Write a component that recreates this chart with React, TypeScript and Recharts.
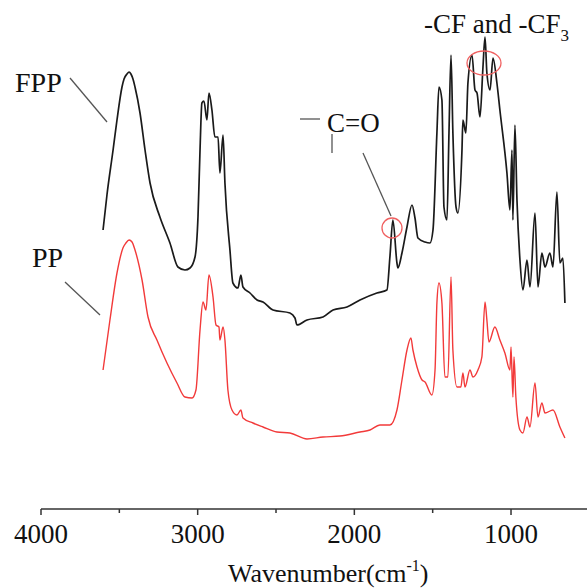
import { LineChart, Line, XAxis, YAxis } from 'recharts';

// FPP (fluorinated PP) spectrum: wavenumber (cm-1) and transmittance (a.u.)
const fppWavenumber = [
  3604, 3579, 3540, 3515, 3483, 3470, 3451, 3438, 3426, 3413, 3400, 3368, 3336, 3304, 3241, 3177,
  3126, 3081, 3049, 3017, 2998, 2985, 2973, 2960, 2941, 2928, 2909, 2890, 2870, 2858, 2838, 2826,
  2794, 2775, 2743, 2724, 2711, 2666, 2621, 2583, 2519, 2411, 2379, 2366, 2302, 2200, 2136, 2047,
  1964, 1856, 1792, 1773, 1754, 1728, 1722, 1696, 1664, 1632, 1613, 1594, 1549, 1517, 1498, 1473,
  1460, 1441, 1428, 1409, 1396, 1383, 1371, 1351, 1339, 1313, 1307, 1288, 1275, 1249, 1230, 1217,
  1198, 1179, 1166, 1154, 1134, 1115, 1090, 1071, 1026, 1007, 994, 988, 975, 962, 943, 924,
  898, 879, 847, 828, 803, 783, 752, 732, 707, 688, 669, 656,
];
const fppValue = [
  279, 314, 359, 389, 422, 430, 435, 437, 435, 430, 422, 396, 359, 326, 292, 266,
  242, 239, 241, 252, 292, 359, 406, 408, 389, 416, 399, 372, 372, 336, 374, 326,
  259, 226, 221, 234, 222, 216, 209, 207, 199, 196, 191, 184, 189, 192, 199, 202,
  209, 216, 219, 252, 289, 246, 241, 256, 282, 304, 291, 271, 267, 266, 279, 376,
  422, 409, 302, 289, 376, 454, 376, 302, 296, 359, 389, 376, 426, 454, 419, 416,
  392, 442, 472, 436, 419, 451, 426, 399, 336, 299, 359, 289, 384, 309, 249, 219,
  249, 222, 296, 222, 256, 242, 256, 242, 317, 246, 251, 206,
];

// PP spectrum
const ppWavenumber = [
  3604, 3560, 3515, 3477, 3458, 3438, 3419, 3400, 3355, 3317, 3260, 3196, 3132, 3081, 3036, 3011,
  2985, 2966, 2947, 2928, 2902, 2883, 2864, 2858, 2838, 2826, 2807, 2781, 2749, 2724, 2711, 2647,
  2583, 2494, 2411, 2302, 2200, 2092, 1964, 1900, 1837, 1773, 1728, 1696, 1664, 1639, 1626, 1600,
  1568, 1549, 1505, 1485, 1473, 1460, 1441, 1422, 1403, 1383, 1371, 1345, 1320, 1307, 1294, 1262,
  1243, 1211, 1186, 1166, 1154, 1141, 1103, 1071, 1039, 1007, 1000, 988, 981, 969, 943, 924,
  898, 879, 847, 828, 803, 783, 732, 688, 656,
];
const ppValue = [
  139, 189, 236, 261, 266, 269, 267, 259, 229, 192, 169, 146, 126, 112, 111, 119,
  179, 207, 199, 234, 212, 184, 182, 169, 182, 169, 119, 99, 94, 99, 91, 86,
  82, 77, 76, 70, 72, 73, 77, 79, 84, 84, 99, 129, 159, 171, 159, 142,
  129, 127, 114, 139, 206, 226, 206, 132, 132, 232, 159, 122, 122, 136, 122, 139,
  132, 139, 152, 207, 189, 167, 182, 169, 156, 139, 162, 112, 152, 112, 79, 76,
  92, 82, 126, 92, 106, 96, 99, 82, 71,
];

const majorTicks = [1000, 2000, 3000, 4000];
const minorTicks = [1500, 2500, 3500];

const fppData = fppWavenumber.map((wn, i) => ({ wn, v: fppValue[i] }));
const ppData = ppWavenumber.map((wn, i) => ({ wn, v: ppValue[i] }));

const FONT = 'Liberation Serif, DejaVu Serif, serif';

function AxisTick(props: any) {
  const { x, y, payload } = props;
  const major = majorTicks.includes(payload.value);
  return (
    <g>
      <line x1={x} y1={y} x2={x} y2={y + (major ? 6 : 4)} stroke="#333" strokeWidth={1.5} />
      {major && (
        <text x={x} y={y + 34} textAnchor="middle" style={{ fontFamily: FONT, fontSize: 27 }} fill="#111">
          {payload.value}
        </text>
      )}
    </g>
  );
}

export default function App() {
  return (
    <div style={{ position: 'relative', width: 587, height: 588, background: '#fff', fontFamily: FONT }}>
      <style>{`body{margin:0}`}</style>
      <LineChart width={587} height={588} margin={{ top: 0, right: 0, left: 41, bottom: 0 }}>
        <XAxis
          dataKey="wn"
          type="number"
          domain={[515, 4000]}
          reversed
          allowDataOverflow
          ticks={[...majorTicks, ...minorTicks].sort((a, b) => a - b)}
          interval={0}
          tickLine={false}
          tickSize={0}
          tickMargin={0}
          height={79}
          axisLine={{ stroke: '#333', strokeWidth: 1.5 }}
          tick={<AxisTick />}
        />
        <YAxis hide type="number" domain={[0, 509]} />
        <Line data={fppData} dataKey="v" type="monotone" stroke="#1a1a1a" strokeWidth={1.7} dot={false} isAnimationActive={false} />
        <Line data={ppData} dataKey="v" type="monotone" stroke="#f23a3a" strokeWidth={1.4} dot={false} isAnimationActive={false} />
      </LineChart>

      <svg
        width={587}
        height={588}
        style={{ position: 'absolute', left: 0, top: 0, pointerEvents: 'none', fontFamily: FONT }}
      >
        {/* series labels */}
        <text x={15} y={92} fontSize={28} fill="#111">FPP</text>
        <line x1={70} y1={78} x2={107} y2={122} stroke="#555" strokeWidth={1.3} />
        <text x={32} y={267} fontSize={28} fill="#111">PP</text>
        <line x1={65} y1={282} x2={100} y2={315} stroke="#555" strokeWidth={1.3} />

        {/* carbonyl annotation */}
        <line x1={300} y1={119} x2={320} y2={119} stroke="#555" strokeWidth={1.3} />
        <text x={327} y={132} fontSize={27} fill="#111">C=O</text>
        <line x1={332} y1={134} x2={332} y2={153} stroke="#555" strokeWidth={1.3} />
        <line x1={363} y1={153} x2={391} y2={216} stroke="#555" strokeWidth={1.3} />
        <circle cx={392} cy={228} r={10} fill="none" stroke="#f06060" strokeWidth={1.3} />

        {/* CF annotation */}
        <text x={424} y={33} fontSize={27} fill="#111">
          -CF and -CF<tspan fontSize={17} dy={8}>3</tspan>
        </text>
        <ellipse cx={484} cy={63} rx={17} ry={12} fill="none" stroke="#f06060" strokeWidth={1.3} />

        {/* axis title */}
        <text x={228} y={582} fontSize={26} fill="#111">
          Wavenumber(cm<tspan fontSize={16} dy={-11}>-1</tspan><tspan dy={11}>)</tspan>
        </text>
      </svg>
    </div>
  );
}
